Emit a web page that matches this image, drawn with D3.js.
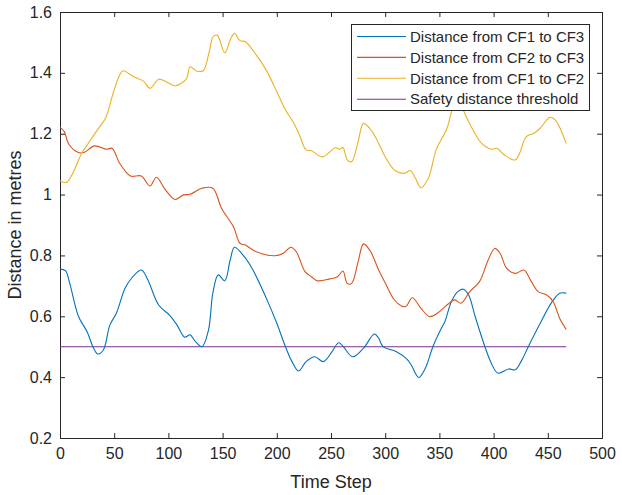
<!DOCTYPE html>
<html><head><meta charset="utf-8">
<script src="https://cdn.jsdelivr.net/npm/d3@7"></script>
<style>body{margin:0;background:#fff}svg{display:block}text{font-family:"Liberation Sans",Arial,sans-serif;fill:#262626}</style>
</head><body><svg id="c" width="622" height="495"></svg>
<script>
const seriesNames = ["Distance from CF1 to CF3","Distance from CF2 to CF3","Distance from CF1 to CF2","Safety distance threshold"];
const seriesColors = ["#0072BD","#D95319","#EDB120","#7E2F8E"];
const xTicks = [0,50,100,150,200,250,300,350,400,450,500];
const yTicks = [0.2,0.4,0.6,0.8,1,1.2,1.4,1.6];
const cf13T = [0,5,9,17,25,31,35,40,46,52,60,66,75,81,91,101,108,115,120,125,131,137,141,146,152,157,161,170,178,191,200,208,214,220,227,235,243,251,257,261,270,280,290,294,298,310,320,324,331,337,344,351,355,361,367,372,377,383,392,398,404,414,420,426,432,443,454,461,467];
const cf13V = [0.755,0.750,0.708,0.600,0.549,0.495,0.476,0.489,0.571,0.610,0.692,0.725,0.752,0.720,0.637,0.604,0.571,0.531,0.539,0.517,0.500,0.555,0.676,0.736,0.717,0.785,0.827,0.796,0.752,0.654,0.577,0.500,0.451,0.420,0.451,0.467,0.451,0.484,0.513,0.502,0.467,0.495,0.542,0.528,0.500,0.484,0.459,0.440,0.399,0.429,0.500,0.555,0.582,0.648,0.681,0.689,0.670,0.599,0.500,0.445,0.413,0.427,0.424,0.456,0.500,0.577,0.648,0.676,0.676];
const cf23T = [0,4,8,17,22,32,43,48,55,65,75,83,89,97,106,114,120,131,141,149,160,166,171,181,198,206,213,218,226,232,237,249,256,261,265,269,275,280,286,294,301,308,315,319,325,333,341,348,357,364,370,378,387,395,401,406,412,420,428,434,441,449,455,461,467];
const cf23V = [1.221,1.207,1.166,1.138,1.138,1.160,1.149,1.152,1.103,1.061,1.061,1.028,1.057,1.017,0.984,0.999,1.001,1.021,1.021,0.955,0.894,0.840,0.834,0.812,0.799,0.807,0.827,0.812,0.747,0.730,0.717,0.723,0.730,0.749,0.708,0.708,0.779,0.838,0.816,0.752,0.703,0.656,0.634,0.632,0.661,0.626,0.599,0.610,0.637,0.654,0.643,0.681,0.714,0.785,0.823,0.807,0.758,0.741,0.752,0.719,0.681,0.670,0.648,0.593,0.557];
const cf12T = [0,6,11,20,26,35,42,49,55,58,68,77,83,91,98,106,114,117,120,126,132,138,141,145,152,157,161,166,171,181,191,200,208,215,221,227,232,242,254,258,261,265,269,275,280,288,294,300,309,318,323,328,333,338,341,347,357,363,369,372,381,389,398,403,410,420,424,430,437,443,452,457,467];
const cf12V = [1.045,1.040,1.064,1.136,1.168,1.215,1.251,1.333,1.393,1.407,1.387,1.373,1.349,1.379,1.371,1.357,1.371,1.382,1.420,1.406,1.407,1.475,1.517,1.524,1.466,1.508,1.530,1.506,1.502,1.459,1.404,1.338,1.278,1.239,1.195,1.147,1.144,1.124,1.154,1.149,1.155,1.114,1.108,1.174,1.234,1.207,1.168,1.124,1.079,1.070,1.079,1.053,1.022,1.042,1.064,1.147,1.218,1.289,1.310,1.278,1.212,1.168,1.149,1.152,1.130,1.114,1.136,1.190,1.201,1.218,1.254,1.245,1.168];
const thresholdT = [0,467];
const thresholdV = [0.5,0.5];

const L=60,R=602,T=12,B=438;
const svg=d3.select("#c");
const x=d3.scaleLinear().domain([0,500]).range([L,R]);
const y=d3.scaleLinear().domain([0.2,1.6]).range([B,T]);

const fmt=d=>String(+d.toFixed(1)).replace(/^(\d)$/,"$1");
// axes
const gx=svg.append("g").attr("transform",`translate(0,${B})`).call(d3.axisBottom(x).tickValues(xTicks).tickSize(-5).tickPadding(10).tickFormat(d3.format("d")));
const gxt=svg.append("g").attr("transform",`translate(0,${T})`).call(d3.axisTop(x).tickValues(xTicks).tickSize(-5).tickFormat(""));
const gy=svg.append("g").attr("transform",`translate(${L},0)`).call(d3.axisLeft(y).tickValues(yTicks).tickSize(-5).tickPadding(8).tickFormat(d=>fmt(d)));
const gyr=svg.append("g").attr("transform",`translate(${R},0)`).call(d3.axisRight(y).tickValues(yTicks).tickSize(-5).tickFormat(""));
[gx,gxt,gy,gyr].forEach(g=>{g.select(".domain").attr("stroke","#262626").attr("stroke-width",1);g.selectAll(".tick line").attr("stroke","#262626");g.selectAll("text").attr("font-size",16).attr("font-family","Liberation Sans, Arial, sans-serif").attr("fill","#262626");});

const line=d3.line().x(d=>x(d[0])).y(d=>y(d[1])).curve(d3.curveCatmullRom.alpha(0.5));
const series=[[cf13T,cf13V],[cf23T,cf23V],[cf12T,cf12V],[thresholdT,thresholdV]];
const order=[3,0,1,2];
order.forEach(i=>{
  const pts=series[i][0].map((t,k)=>[t,series[i][1][k]]);
  svg.append("path").datum(pts).attr("d",line).attr("fill","none").attr("stroke",seriesColors[i]).attr("stroke-width",1.1);
});

svg.append("text").attr("x",(L+R)/2).attr("y",488).attr("text-anchor","middle").attr("font-size",18).text("Time Step");
svg.append("text").attr("transform",`translate(21,${(T+B)/2}) rotate(-90)`).attr("text-anchor","middle").attr("font-size",18).text("Distance in metres");

// legend
const lg=svg.append("g");
lg.append("rect").attr("x",351.5).attr("y",24.5).attr("width",238).attr("height",86).attr("fill","#fff").attr("stroke","#262626").attr("stroke-width",1);
seriesNames.forEach((n,i)=>{
  const yy=36.5+i*20.9;
  lg.append("line").attr("x1",357).attr("x2",406).attr("y1",yy).attr("y2",yy).attr("stroke",seriesColors[i]).attr("stroke-width",1.1);
  lg.append("text").attr("x",410).attr("y",yy+5.2).attr("font-size",15).text(n);
});
</script></body></html>
